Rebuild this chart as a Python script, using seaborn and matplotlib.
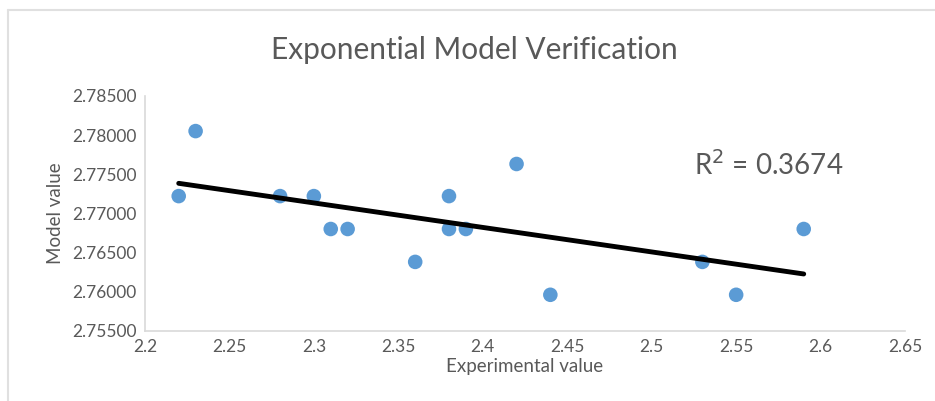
import numpy as np
import pandas as pd
import matplotlib
matplotlib.use("Agg")
import matplotlib.pyplot as plt
from matplotlib.lines import Line2D
import seaborn as sns

# Experimental vs. model values
experimental = [2.22, 2.23, 2.28, 2.30, 2.31, 2.32, 2.36, 2.38, 2.38, 2.39,
                2.42, 2.44, 2.53, 2.55, 2.59]
model = [2.7722, 2.7805, 2.7722, 2.7722, 2.7680, 2.7680, 2.7638, 2.7722, 2.7680, 2.7680,
         2.7763, 2.7596, 2.7638, 2.7596, 2.7680]
x_ticks = [2.2, 2.25, 2.3, 2.35, 2.4, 2.45, 2.5, 2.55, 2.6, 2.65]
x_tick_labels = ["2.2", "2.25", "2.3", "2.35", "2.4", "2.45", "2.5", "2.55", "2.6", "2.65"]
y_ticks = [2.755, 2.760, 2.765, 2.770, 2.775, 2.780, 2.785]
r2_label = "R$^2$ = 0.3674"

df = pd.DataFrame({"Experimental value": experimental, "Model value": model})

sns.set_theme(style="white")
plt.rcParams["font.family"] = ["Lato", "DejaVu Sans"]

text_color = "#595959"
fig = plt.figure(figsize=(9.35, 4.01), dpi=100)
ax = fig.add_axes([0.155, 0.175, 0.813, 0.586])

sns.scatterplot(data=df, x="Experimental value", y="Model value", ax=ax,
                color="#5B9BD5", s=110, edgecolor="none", zorder=2)
sns.regplot(data=df, x="Experimental value", y="Model value", ax=ax, ci=None,
            scatter=False, line_kws={"color": "black", "lw": 3.5, "zorder": 3,
                                     "solid_capstyle": "round"})

ax.set_xlim(2.2, 2.65)
ax.set_ylim(2.755, 2.785)
ax.set_xticks(x_ticks)
ax.set_xticklabels(x_tick_labels)
ax.set_yticks(y_ticks)
ax.set_yticklabels([f"{v:.5f}" for v in y_ticks])
ax.tick_params(axis="both", length=0, labelsize=12.5, colors=text_color, pad=6)

for side in ["top", "right"]:
    ax.spines[side].set_visible(False)
for side in ["left", "bottom"]:
    ax.spines[side].set_color("#d9d9d9")
    ax.spines[side].set_linewidth(1.2)

ax.set_xlabel("Experimental value", fontsize=13.5, color=text_color, labelpad=2)
ax.set_ylabel("Model value", fontsize=13.5, color=text_color, labelpad=6)

fig.text(0.507, 0.875, "Exponential Model Verification", ha="center", va="center",
         fontsize=21.5, color=text_color)
ax.text(2.525, 2.7762, r2_label, fontsize=20, color=text_color, va="center", ha="left")

# light chart-area frame (top and left edges)
frame_kw = dict(transform=fig.transFigure, color="#e0e0e0", lw=1.5)
fig.lines.append(Line2D([0.0086, 1.0], [0.976, 0.976], **frame_kw))
fig.lines.append(Line2D([0.0086, 0.0086], [0.0, 0.976], **frame_kw))

fig.savefig("out.png", dpi=100, facecolor="white")
